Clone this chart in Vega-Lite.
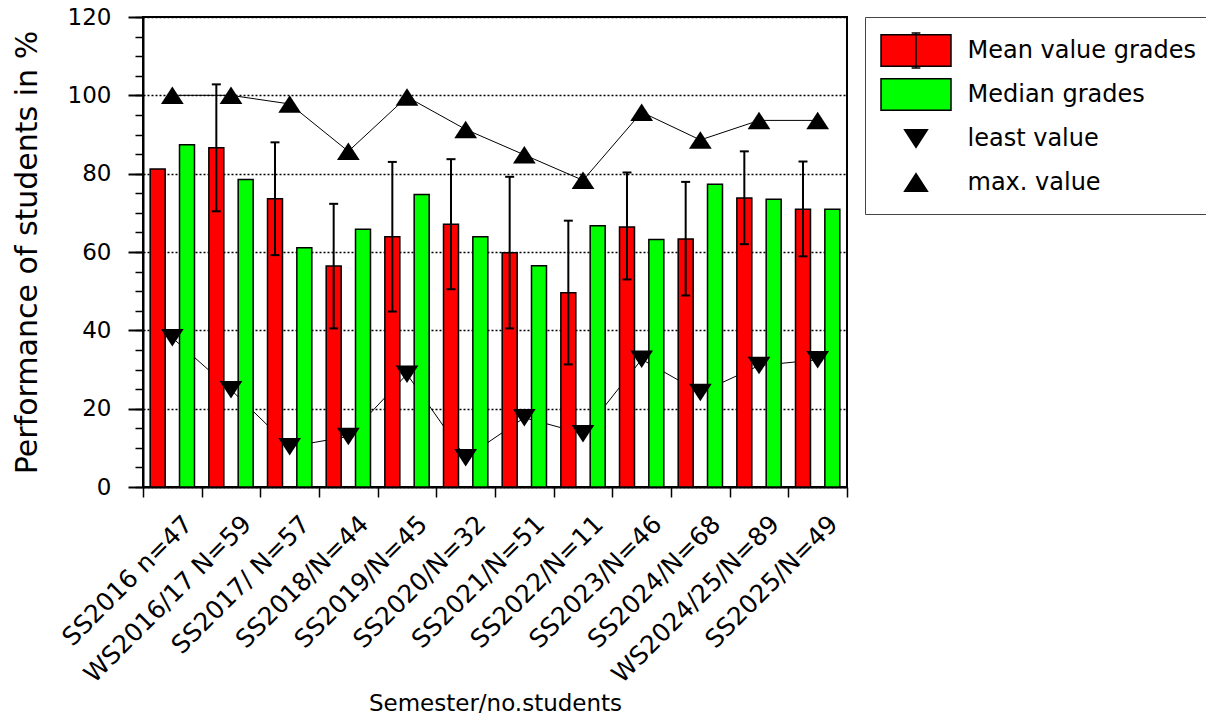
{
  "$schema": "https://vega.github.io/schema/vega-lite/v6.json",
  "width": 704,
  "height": 470,
  "autosize": {"type": "none"},
  "padding": {"left": 143, "top": 17, "right": 359, "bottom": 232},
  "background": "white",
  "config": {
    "font": "DejaVu Sans",
    "view": {"stroke": "black", "strokeWidth": 2},
    "legend": {
      "orient": "right",
      "offset": 18,
      "padding": 15,
      "strokeColor": "#444444",
      "strokeWidth": 1,
      "labelFont": "DejaVu Sans",
      "labelFontSize": 24,
      "labelColor": "black",
      "labelLimit": 400,
      "labelOffset": 33,
      "symbolSize": 1225,
      "symbolOffset": 17.5,
      "symbolStrokeColor": "black",
      "symbolStrokeWidth": 1.5,
      "rowPadding": 1
    }
  },
  "datasets": {
    "bars": [
      {"semester": "SS2016 n=47", "series": "Mean value grades", "value": 81.2},
      {"semester": "SS2016 n=47", "series": "Median grades", "value": 87.4},
      {"semester": "WS2016/17 N=59", "series": "Mean value grades", "value": 86.6},
      {"semester": "WS2016/17 N=59", "series": "Median grades", "value": 78.5},
      {"semester": "SS2017/ N=57", "series": "Mean value grades", "value": 73.6},
      {"semester": "SS2017/ N=57", "series": "Median grades", "value": 61.1},
      {"semester": "SS2018/N=44", "series": "Mean value grades", "value": 56.4},
      {"semester": "SS2018/N=44", "series": "Median grades", "value": 65.8},
      {"semester": "SS2019/N=45", "series": "Mean value grades", "value": 63.9},
      {"semester": "SS2019/N=45", "series": "Median grades", "value": 74.7},
      {"semester": "SS2020/N=32", "series": "Mean value grades", "value": 67.1},
      {"semester": "SS2020/N=32", "series": "Median grades", "value": 63.9},
      {"semester": "SS2021/N=51", "series": "Mean value grades", "value": 59.8},
      {"semester": "SS2021/N=51", "series": "Median grades", "value": 56.5},
      {"semester": "SS2022/N=11", "series": "Mean value grades", "value": 49.6},
      {"semester": "SS2022/N=11", "series": "Median grades", "value": 66.7},
      {"semester": "SS2023/N=46", "series": "Mean value grades", "value": 66.4},
      {"semester": "SS2023/N=46", "series": "Median grades", "value": 63.2},
      {"semester": "SS2024/N=68", "series": "Mean value grades", "value": 63.3},
      {"semester": "SS2024/N=68", "series": "Median grades", "value": 77.3},
      {"semester": "WS2024/25/N=89", "series": "Mean value grades", "value": 73.8},
      {"semester": "WS2024/25/N=89", "series": "Median grades", "value": 73.5},
      {"semester": "SS2025/N=49", "series": "Mean value grades", "value": 70.9},
      {"semester": "SS2025/N=49", "series": "Median grades", "value": 70.9}
    ],
    "err": [
      {"semester": "WS2016/17 N=59", "series": "Mean value grades", "lower": 70.4, "upper": 102.8},
      {"semester": "SS2017/ N=57", "series": "Mean value grades", "lower": 59.2, "upper": 88.0},
      {"semester": "SS2018/N=44", "series": "Mean value grades", "lower": 40.5, "upper": 72.3},
      {"semester": "SS2019/N=45", "series": "Mean value grades", "lower": 44.8, "upper": 83.0},
      {"semester": "SS2020/N=32", "series": "Mean value grades", "lower": 50.5, "upper": 83.7},
      {"semester": "SS2021/N=51", "series": "Mean value grades", "lower": 40.5, "upper": 79.2},
      {"semester": "SS2022/N=11", "series": "Mean value grades", "lower": 31.3, "upper": 68.0},
      {"semester": "SS2023/N=46", "series": "Mean value grades", "lower": 53.0, "upper": 80.3},
      {"semester": "SS2024/N=68", "series": "Mean value grades", "lower": 48.9, "upper": 77.9},
      {"semester": "WS2024/25/N=89", "series": "Mean value grades", "lower": 62.0, "upper": 85.7},
      {"semester": "SS2025/N=49", "series": "Mean value grades", "lower": 58.9, "upper": 83.1}
    ],
    "ext": [
      {"semester": "SS2016 n=47", "idx": 1, "series": "least value", "value": 38.1},
      {"semester": "WS2016/17 N=59", "idx": 2, "series": "least value", "value": 24.8},
      {"semester": "SS2017/ N=57", "idx": 3, "series": "least value", "value": 10.3},
      {"semester": "SS2018/N=44", "idx": 4, "series": "least value", "value": 12.9},
      {"semester": "SS2019/N=45", "idx": 5, "series": "least value", "value": 28.8},
      {"semester": "SS2020/N=32", "idx": 6, "series": "least value", "value": 7.5},
      {"semester": "SS2021/N=51", "idx": 7, "series": "least value", "value": 17.7},
      {"semester": "SS2022/N=11", "idx": 8, "series": "least value", "value": 13.6},
      {"semester": "SS2023/N=46", "idx": 9, "series": "least value", "value": 32.6},
      {"semester": "SS2024/N=68", "idx": 10, "series": "least value", "value": 24.1},
      {"semester": "WS2024/25/N=89", "idx": 11, "series": "least value", "value": 31.0},
      {"semester": "SS2025/N=49", "idx": 12, "series": "least value", "value": 32.5},
      {"semester": "SS2016 n=47", "idx": 1, "series": "max. value", "value": 100.0},
      {"semester": "WS2016/17 N=59", "idx": 2, "series": "max. value", "value": 100.0},
      {"semester": "SS2017/ N=57", "idx": 3, "series": "max. value", "value": 97.8},
      {"semester": "SS2018/N=44", "idx": 4, "series": "max. value", "value": 85.7},
      {"semester": "SS2019/N=45", "idx": 5, "series": "max. value", "value": 99.6},
      {"semester": "SS2020/N=32", "idx": 6, "series": "max. value", "value": 91.3},
      {"semester": "SS2021/N=51", "idx": 7, "series": "max. value", "value": 84.8},
      {"semester": "SS2022/N=11", "idx": 8, "series": "max. value", "value": 78.3},
      {"semester": "SS2023/N=46", "idx": 9, "series": "max. value", "value": 95.7},
      {"semester": "SS2024/N=68", "idx": 10, "series": "max. value", "value": 88.6},
      {"semester": "WS2024/25/N=89", "idx": 11, "series": "max. value", "value": 93.6},
      {"semester": "SS2025/N=49", "idx": 12, "series": "max. value", "value": 93.6}
    ]
  },
  "resolve": {"axis": {"y": "independent"}},
  "layer": [
    {
      "data": {"name": "ext"},
      "transform": [{"filter": "datum.series == 'least value'"}],
      "mark": {"type": "line", "color": "black", "strokeWidth": 1},
      "encoding": {
        "x": {"field": "semester", "type": "nominal",
              "scale": {"type": "band", "domain": ["SS2016 n=47", "WS2016/17 N=59", "SS2017/ N=57", "SS2018/N=44", "SS2019/N=45", "SS2020/N=32", "SS2021/N=51", "SS2022/N=11", "SS2023/N=46", "SS2024/N=68", "WS2024/25/N=89", "SS2025/N=49"], "paddingInner": 0, "paddingOuter": 0},
              "axis": {"tickBand": "extent", "tickSize": 10, "tickWidth": 1.5, "tickColor": "black",
                       "domainColor": "black", "domainWidth": 2, "grid": false,
                       "labelAngle": -45, "labelAlign": "right", "labelBaseline": "top",
                       "labelFont": "DejaVu Sans", "labelFontSize": 25, "labelColor": "black",
                       "labelPadding": 14, "labelOffset": 7, "labelLimit": 400, "labelOverlap": false,
                       "title": "Semester/no.students", "titleFont": "DejaVu Sans", "titleFontSize": 23,
                       "titleFontWeight": "normal", "titleColor": "black", "titlePadding": 5}},
        "y": {"field": "value", "type": "quantitative",
              "scale": {"domain": [0, 120], "nice": false},
              "axis": {"orient": "left", "values": [0, 5, 10, 15, 20, 25, 30, 35, 40, 45, 50, 55, 60, 65, 70, 75, 80, 85, 90, 95, 100, 105, 110, 115, 120],
                       "tickSize": 8, "tickWidth": 1.5, "tickColor": "black", "labels": false, "domain": false, "grid": false, "title": null}},
        "order": {"field": "idx", "type": "quantitative"}
      }
    },
    {
      "data": {"name": "bars"},
      "mark": {"type": "bar", "stroke": "black", "strokeWidth": 1.5},
      "encoding": {
        "x": {"field": "semester", "type": "nominal"},
        "xOffset": {"field": "series", "type": "nominal",
                    "scale": {"domain": ["Mean value grades", "Median grades"], "paddingInner": 0.489, "paddingOuter": 0.2445}},
        "y": {"field": "value", "type": "quantitative",
              "scale": {"domain": [0, 120], "nice": false},
              "axis": {"orient": "left", "values": [0, 20, 40, 60, 80, 100, 120],
                       "tickSize": 15, "tickWidth": 2, "tickColor": "black",
                       "domain": true, "domainColor": "black", "domainWidth": 2,
                       "grid": true, "gridColor": "black", "gridDash": [2, 2], "gridWidth": 1.5,
                       "labelFont": "DejaVu Sans", "labelFontSize": 23, "labelColor": "black", "labelPadding": 17,
                       "title": "Performance of students in %", "titleFont": "DejaVu Sans", "titleFontSize": 30,
                       "titleFontWeight": "normal", "titleColor": "black", "titlePadding": 25}},
        "fill": {"field": "series", "type": "nominal",
                 "scale": {"domain": ["Mean value grades", "Median grades", "least value", "max. value"],
                           "range": ["#ff0000", "#00ff00", "#000000", "#000000"]},
                 "legend": {"title": null, "labelExpr": "datum.label + '     '"}}
      }
    },
    {
      "data": {"name": "err"},
      "mark": {"type": "rule", "color": "black", "strokeWidth": 2},
      "encoding": {
        "x": {"field": "semester", "type": "nominal"},
        "xOffset": {"field": "series", "type": "nominal"},
        "y": {"field": "lower", "type": "quantitative", "axis": null, "scale": {"domain": [0, 120], "nice": false}},
        "y2": {"field": "upper"}
      }
    },
    {
      "data": {"name": "err"},
      "mark": {"type": "tick", "color": "black", "thickness": 2, "size": 9, "orient": "horizontal", "opacity": 1},
      "encoding": {
        "x": {"field": "semester", "type": "nominal"},
        "xOffset": {"field": "series", "type": "nominal"},
        "y": {"field": "upper", "type": "quantitative", "axis": null, "scale": {"domain": [0, 120], "nice": false}}
      }
    },
    {
      "data": {"name": "err"},
      "mark": {"type": "tick", "color": "black", "thickness": 2, "size": 9, "orient": "horizontal", "opacity": 1},
      "encoding": {
        "x": {"field": "semester", "type": "nominal"},
        "xOffset": {"field": "series", "type": "nominal"},
        "y": {"field": "lower", "type": "quantitative", "axis": null, "scale": {"domain": [0, 120], "nice": false}}
      }
    },
    {
      "data": {"name": "ext"},
      "transform": [{"filter": "datum.series == 'max. value'"}],
      "mark": {"type": "line", "color": "black", "strokeWidth": 1},
      "encoding": {
        "x": {"field": "semester", "type": "nominal"},
        "y": {"field": "value", "type": "quantitative", "axis": null, "scale": {"domain": [0, 120], "nice": false}},
        "order": {"field": "idx", "type": "quantitative"}
      }
    },
    {
      "data": {"name": "ext"},
      "mark": {"type": "point", "filled": true, "opacity": 1, "size": 1225},
      "encoding": {
        "x": {"field": "semester", "type": "nominal"},
        "y": {"field": "value", "type": "quantitative", "axis": null, "scale": {"domain": [0, 120], "nice": false}},
        "fill": {"field": "series", "type": "nominal", "legend": {"title": null, "labelExpr": "datum.label + '     '"}},
        "shape": {"field": "series", "type": "nominal",
                  "scale": {"domain": ["Mean value grades", "Median grades", "least value", "max. value"],
                            "range": ["M-2,-0.9H2V0.9H-2Z M0,-1V1 M-0.25,-1H0.25 M-0.25,1H0.25 M0,-1.05M0,1.05",
                                      "M-2,-0.9H2V0.9H-2Z M0,-1.05M0,1.05",
                                      "M-0.65,-0.5L0.65,-0.5L0,0.5Z M0,-1.05M0,1.05",
                                      "M-0.65,0.5L0.65,0.5L0,-0.5Z M0,-1.05M0,0.75"]},
                  "legend": {"title": null, "labelExpr": "datum.label + '     '"}}
      }
    }
  ]
}
